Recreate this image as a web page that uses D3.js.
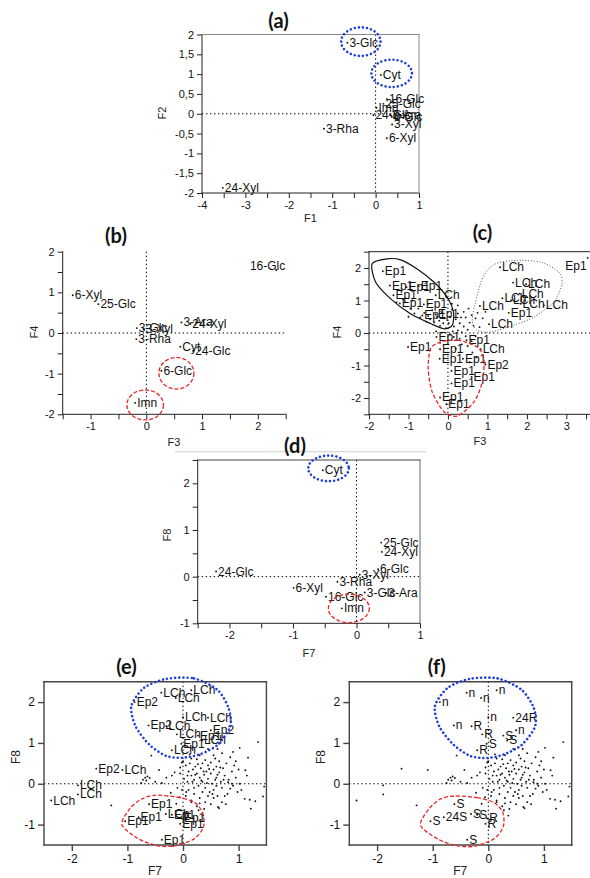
<!DOCTYPE html>
<html><head><meta charset="utf-8">
<script src="https://cdn.jsdelivr.net/npm/d3@7"></script>
<style>body{margin:0;background:#fff}</style>
</head><body><script>
// ---------- DATA ----------
// (a) variables on F1/F2
const varNames = ["3-Glc","Cyt","16-Glc","25-Glc","Imn","24-Glc","3-Ara","6-Glc","3-Xyl","3-Rha","6-Xyl","24-Xyl"];
const aF1 = [-0.65, 0.12, 0.26, 0.18, 0.02, -0.05, 0.33, 0.37, 0.38, -1.19, 0.26, -3.52];
const aF2 = [ 1.79, 0.98, 0.37, 0.25, 0.15, -0.03, -0.02, -0.08, -0.27, -0.38, -0.62, -1.87];
// (b) variables on F3/F4
const bF3 = [-0.17, 0.61, 2.33, -0.86, -0.2, 0.84, 0.63, 0.27, -0.05, -0.18, -1.32, 0.79];
const bF4 = [ 0.12, -0.34, 1.55, 0.71, -1.72, -0.44, 0.26, -0.93, 0.1, -0.15, 0.93, 0.22];
// (d) variables on F7/F8
const dF7 = [0.13, -0.53, -0.48, 0.39, -0.23, -2.21, 0.47, 0.34, 0.05, -0.3, -0.99, 0.4];
const dF8 = [-0.34, 2.28, -0.43, 0.73, -0.68, 0.11, -0.35, 0.16, 0.04, -0.11, -0.24, 0.53];
// (c) labelled observations on F3/F4
const cLab = ["Ep1","Ep1","Ep1","Ep1","Ep1","LCh","Ep1","Ep1","Ep1","Ep1","Ep1","Ep1","Ep1","Ep1","LCh","Ep1","Ep1","Ep2","Ep1","Ep1","Ep1","Ep1","Ep1","Ep1","LCh","LCh","LCh","LCh","LCh","LCh","LCh","Ep1","LCh","LCh","LCh"];
const cF3 = [-1.65,-1.47,-1.05,-0.74,-1.38,-0.31,-1.22,-0.61,-0.65,-0.31,-0.29,-1.01,-0.2,0.47,0.83,-0.21,0.38,0.95,0.09,0.6,0.09,-0.2,-0.04,3.54,1.32,1.65,1.98,1.38,1.82,1.84,2.43,1.54,0.81,1.04,1.6];
const cF4 = [1.9,1.46,1.41,1.44,1.16,1.16,0.91,0.88,0.54,0.57,-0.12,-0.43,-0.5,-0.22,-0.5,-0.79,-0.79,-0.97,-1.17,-1.35,-1.55,-1.98,-2.19,2.31,2.02,1.55,1.5,1.07,1.21,0.9,0.85,0.62,0.83,0.27,1.0];
// (c) unlabelled observations [F3, F4]
const cCloud = [[-1.15,1.05],[-1.3,0.95],[-0.95,0.75],[-0.85,0.6],[-0.75,0.75],[-0.6,0.62],[-0.5,0.52],[-0.45,0.42],[-0.4,0.7],[-0.35,0.33],[-0.28,0.5],[-0.22,0.38],[-0.2,0.22],[-0.15,0.62],[-0.12,0.3],[-0.08,0.45],[-0.05,0.15],[-0.55,0.35],[-0.7,0.48],[-1.0,0.5],[-0.9,1.0],[-0.5,0.9],
[0.02,0.3],[0.05,0.5],[0.1,0.72],[0.15,0.2],[0.2,0.42],[0.25,0.6],[0.25,0.08],[0.3,0.3],[0.35,0.02],[0.4,0.2],[0.45,0.48],[0.5,0.1],[0.55,0.32],[0.6,0.55],[0.65,0.22],[0.7,0.45],[0.75,0.62],[0.8,0.18],[0.45,-0.1],[0.3,-0.18],[0.15,-0.12],[0.05,-0.05],[0.6,-0.25],[0.7,-0.1],[0.5,-0.4],[0.35,-0.35],[0.2,-0.48],[0.62,-0.6],[0.72,-0.75],[0.55,-0.9],[0.25,0.85],[0.1,0.9],[0.88,0.45],[0.95,0.65],[0.4,0.65],[0.12,0.05],[-0.3,0.05],[-0.2,-0.3],[0.52,0.75],[0.33,0.48]];
// (e)/(f) labelled observations on F7/F8 (same scores, two labellings)
const efF7 = [-0.39,0.15,-0.87,-0.13,0.0,0.45,-0.62,-0.3,-0.11,0.27,0.5,0.34,-0.03,-0.2,-1.56,-1.09,-1.89,-1.89,-2.37,-0.61,-0.8,-1.04,-0.31,-0.2,-0.02,-0.05,-0.38];
const efF8 = [2.23,2.29,2.0,2.1,1.63,1.62,1.43,1.41,1.21,1.18,1.31,1.06,0.98,0.82,0.37,0.34,-0.04,-0.26,-0.41,-0.5,-0.82,-0.92,-0.74,-0.76,-0.85,-0.98,-1.37];
const labE = ["LCh","LCh","Ep2","LCh","LCh","LCh","Ep2","LCh","LCh","Ep1","Ep2","LCh","Ep1","LCh","Ep2","LCh","LCh","LCh","LCh","Ep1","Ep1","Ep1","LCh","Ep1","Ep1","Ep1","Ep1"];
const labF = ["n","n","n","n","n","24R","n","R","R","S","n","S","S","R","","","","","","S","24S","S","S","S","R","R","S"];
// (e)/(f) unlabelled observations [F7, F8]
const efCloud = [[1.35,1.02],[1.17,0.64],[1.02,0.88],[0.9,0.78],[1.12,0.33],[1.15,0.2],[1.11,-0.37],[1.2,-0.39],[1.3,-0.43],[1.46,-0.07],[1.44,-0.31],[1.22,-0.61],[1.02,0.0],[0.81,0.04],[0.88,0.0],[0.63,-0.57],[0.36,-0.78],[0.28,-0.65],[0.15,-0.41],[-0.06,-0.33],[-0.12,-0.49],[0.06,-0.2],
[-1.29,-0.53],[-0.57,0.69],[-0.43,0.34],[-0.72,0.1],[-0.68,0.15],[-0.64,0.18],[-0.6,0.14],[-0.66,0.08],[-0.75,0.02],[-0.5,0.05],[-0.38,0.02],[-0.3,0.15],[-0.2,0.2],[-0.15,0.28],[-0.05,0.25],[-0.1,-0.1],[-0.22,-0.22],[-0.02,0.52],[-0.02,-0.15],
[0.0,0.55],[0.05,0.45],[0.1,0.3],[0.12,0.5],[0.15,0.2],[0.18,0.35],[0.2,0.1],[0.22,0.42],[0.25,0.6],[0.25,0.25],[0.28,-0.05],[0.3,0.15],[0.32,0.38],[0.35,0.5],[0.35,0.05],[0.38,0.22],[0.4,0.58],[0.4,-0.1],[0.42,0.3],[0.45,0.45],[0.45,0.12],[0.48,-0.2],[0.5,0.52],[0.5,0.25],[0.52,0.0],[0.55,0.35],[0.55,-0.15],[0.58,0.62],[0.6,0.15],[0.6,0.42],[0.62,-0.3],[0.65,0.28],[0.65,0.55],[0.68,0.05],[0.7,0.75],[0.7,-0.1],[0.72,0.38],[0.75,0.2],[0.78,0.5],[0.8,-0.25],[0.82,0.1],[0.85,0.65],[0.88,0.3],[0.9,-0.05],[0.92,0.45],[0.95,0.15],[0.98,-0.2],[1.0,0.35],
[0.05,-0.3],[0.1,-0.15],[0.15,-0.45],[0.2,-0.25],[0.25,-0.55],[0.3,-0.35],[0.35,-0.2],[0.4,-0.45],[0.45,-0.3],[0.5,-0.5],[0.55,-0.35],[0.6,-0.05],[0.65,-0.6],[0.7,-0.45],[0.75,-0.3],[0.3,0.7],[0.15,0.62],[0.55,0.7],[0.45,0.85],[0.62,0.85],[0.2,-0.1],[0.08,0.05],[0.02,0.12],[-0.05,0.4],[0.38,-0.62],[0.12,0.72],
[0.33,0.08],[0.43,0.02],[0.58,0.1],[0.27,0.48],[0.47,0.36],[0.67,0.4],[0.37,0.3],[0.17,0.05],[0.53,-0.25],[0.73,0.1],[0.08,0.2],[0.22,0.22],[0.62,0.22],[0.85,-0.12],[0.95,0.55],[0.77,-0.5],[1.05,-0.15],[0.3,-0.48]];
// tick values
const tA_x=[-4,-3.5,-3,-2.5,-2,-1.5,-1,-0.5,0,0.5,1], tA_y=[-2,-1.5,-1,-0.5,0,0.5,1,1.5,2];
const tB_x=[-1.5,-1,-0.5,0,0.5,1,1.5,2,2.5], tB_y=[-2,-1.5,-1,-0.5,0,0.5,1,1.5,2];
const tC_x=[-2,-1.5,-1,-0.5,0,0.5,1,1.5,2,2.5,3,3.5], tC_y=[-2.5,-2,-1.5,-1,-0.5,0,0.5,1,1.5,2,2.5];
const tD_x=[-2.5,-2,-1.5,-1,-0.5,0,0.5,1], tD_y=[-1,-0.5,0,0.5,1,1.5,2,2.5];
const tE_x=[-2,-1,0,1], tE_y=[-1,0,1,2];

// ---------- DRAWING ----------
const FONT='"Liberation Sans", Arial, sans-serif';
const svg=d3.select("body").append("svg").attr("width",590).attr("height",878);
const BLUE="#1f3fd8", RED="#e8262a";

function intOnly(d){return Number.isInteger(d)? String(d):"";}
function comma(d){return String(d).replace(".",",");}

function panel(o){
  const x=d3.scaleLinear().domain(o.xdom).range([o.l,o.r]);
  const y=d3.scaleLinear().domain(o.ydom).range([o.b,o.t]);
  const g=svg.append("g");
  // reference lines
  g.append("line").attr("x1",x(0)).attr("x2",x(0)).attr("y1",o.t).attr("y2",o.b)
   .attr("stroke","#000").attr("stroke-width",1).attr("stroke-dasharray","1.4 2.6");
  g.append("line").attr("x1",o.l).attr("x2",o.r).attr("y1",y(0)).attr("y2",y(0))
   .attr("stroke","#000").attr("stroke-width",1).attr("stroke-dasharray","1.4 2.6");
  const xa=d3.axisBottom(x).tickValues(o.xt).tickSize(o.tick).tickSizeOuter(0).tickFormat(o.xf).tickPadding(3);
  const ya=d3.axisLeft(y).tickValues(o.yt).tickSize(o.tick).tickSizeOuter(0).tickFormat(o.yf).tickPadding(3);
  const gx=g.append("g").attr("transform",`translate(0,${o.b})`).call(xa);
  const gy=g.append("g").attr("transform",`translate(${o.l},0)`).call(ya);
  [gx,gy].forEach(a=>{a.select(".domain").remove();
    a.selectAll("line").attr("stroke",o.axc).attr("stroke-width",o.axw);
    a.selectAll("text").attr("font-size",o.fs).attr("font-family",FONT).attr("fill","#111");});
  const side={left:[o.l,o.t,o.l,o.b],bottom:[o.l,o.b,o.r,o.b],top:[o.l,o.t,o.r,o.t],right:[o.r,o.t,o.r,o.b]};
  Object.entries(o.frame).forEach(([k,c])=>{const s=side[k];
    g.append("line").attr("x1",s[0]).attr("y1",s[1]).attr("x2",s[2]).attr("y2",s[3])
     .attr("stroke",c).attr("stroke-width",o.axw).attr("stroke-linecap","square");});
  // titles
  g.append("text").attr("x",o.title[1]).attr("y",o.title[2]).attr("text-anchor","middle")
   .attr("font-family","Lato, 'Open Sans', sans-serif").attr("font-weight",700).attr("font-size",20).attr("fill","#111").text(o.title[0]);
  g.append("text").attr("x",o.xlab[1]).attr("y",o.xlab[2]).attr("text-anchor","middle")
   .attr("font-family",FONT).attr("font-size",o.lfs).attr("fill","#222").text(o.xlab[0]);
  g.append("text").attr("transform",`translate(${o.ylab[1]},${o.ylab[2]}) rotate(-90)`).attr("text-anchor","middle")
   .attr("dominant-baseline","middle").attr("font-family",FONT).attr("font-size",o.lfs).attr("fill","#222").text(o.ylab[0]);
  return {x,y,g};
}

function points(p,xs,ys,labs,ov){
  ov=ov||{};
  xs.forEach((v,i)=>{
    const cx=p.x(v), cy=p.y(ys[i]);
    p.g.append("circle").attr("cx",cx).attr("cy",cy).attr("r",0.95).attr("fill","#111");
    if(labs && labs[i]){
      const o=ov[i]||{};
      p.g.append("text").attr("x",cx+(o.dx!==undefined?o.dx:2)).attr("y",cy+(o.dy!==undefined?o.dy:4))
       .attr("text-anchor",o.anchor||"start").attr("font-family",FONT).attr("font-size",12).attr("fill","#111").text(labs[i]);
    }
  });
}
function ellipse(p,cx,cy,rx,ry,kind){
  const e=p.g.append("ellipse").attr("cx",p.x(cx)).attr("cy",p.y(cy)).attr("rx",rx).attr("ry",ry).attr("fill","none");
  style(e,kind);
}
function style(e,kind){
  if(kind==="blue") e.attr("stroke",BLUE).attr("stroke-width",2.6).attr("stroke-dasharray","0.01 4.1").attr("stroke-linecap","round");
  else if(kind==="red") e.attr("stroke",RED).attr("stroke-width",1.3).attr("stroke-dasharray","4 2");
  else if(kind==="black") e.attr("stroke","#111").attr("stroke-width",1.2);
  else if(kind==="gray") e.attr("stroke","#555").attr("stroke-width",1).attr("stroke-dasharray","1 1.8");
}
function shape(p,pts,kind){
  const line=d3.line().x(d=>p.x(d[0])).y(d=>p.y(d[1])).curve(d3.curveCardinalClosed.tension(0.2));
  style(p.g.append("path").attr("d",line(pts)).attr("fill","none"),kind);
}

// Panel (a)
const pA=panel({l:202,r:419,t:34.5,b:193,xdom:[-4,1],ydom:[-2,2],xt:tA_x,yt:tA_y,xf:intOnly,yf:comma,tick:5,fs:11,lfs:11,
  axc:"#222",axw:1,frame:{left:"#222",bottom:"#222",top:"#888",right:"#888"},
  title:["(a)",278.5,28],xlab:["F1",310.5,222],ylab:["F2",163,113]});
points(pA,aF1,aF2,varNames);
ellipse(pA,-0.34,1.82,19.7,14.3,"blue");
ellipse(pA,0.37,1.02,20.3,13.7,"blue");

// Panel (b)
const pB=panel({l:62.7,r:285.7,t:251.7,b:414.3,xdom:[-1.5,2.5],ydom:[-2,2],xt:tB_x,yt:tB_y,xf:intOnly,yf:intOnly,tick:5,fs:11,lfs:11,
  axc:"#222",axw:1,frame:{left:"#222",bottom:"#222"},
  title:["(b)",116,243],xlab:["F3",174,446],ylab:["F4",35,332]});
points(pB,bF3,bF4,varNames,{2:{anchor:"end",dx:9,dy:0}});
ellipse(pB,0.54,-0.99,17.5,15.8,"red");
ellipse(pB,-0.02,-1.77,18.3,15,"red");

// Panel (c)
const pC=panel({l:369,r:592,t:251.7,b:414.3,xdom:[-2,3.65],ydom:[-2.5,2.5],xt:tC_x,yt:tC_y,xf:intOnly,yf:intOnly,tick:5,fs:11,lfs:11,
  axc:"#222",axw:1,frame:{left:"#222",bottom:"#222",top:"#222"},
  title:["(c)",482.5,239.5],xlab:["F3",480,445],ylab:["F4",338,332]});
points(pC,cCloud.map(d=>d[0]),cCloud.map(d=>d[1]),null);
points(pC,cF3,cF4,cLab,{23:{anchor:"end",dx:-1,dy:12}});
shape(pC,[[-1.92,2.13],[-1.54,2.28],[-1.2,2.25],[-0.78,1.97],[-0.35,1.56],[-0.02,1.1],[0.14,0.64],[0.11,0.24],[-0.1,0.13],[-0.44,0.29],[-0.95,0.59],[-1.45,1.05],[-1.83,1.56]],"black");
shape(pC,[[0.66,0.75],[0.87,1.67],[1.16,2.1],[1.67,2.23],[2.35,2.18],[2.81,1.87],[2.89,1.51],[2.68,0.95],[2.18,0.49],[1.67,0.24],[1.08,0.03],[0.74,0.08],[0.62,0.34]],"gray");
shape(pC,[[-0.19,-0.28],[0.24,-0.22],[0.74,-0.43],[0.91,-0.79],[0.87,-1.5],[0.66,-2.12],[0.24,-2.55],[-0.1,-2.42],[-0.4,-1.81],[-0.5,-1.09],[-0.44,-0.48]],"red");

// Panel (d)
svg.append("line").attr("x1",175).attr("x2",426).attr("y1",451.7).attr("y2",451.7).attr("stroke","#d0d0d0").attr("stroke-width",1);
const pD=panel({l:197.7,r:420,t:460,b:623.3,xdom:[-2.5,1],ydom:[-1,2.5],xt:tD_x,yt:tD_y,xf:intOnly,yf:intOnly,tick:5,fs:11,lfs:11,
  axc:"#222",axw:1,frame:{left:"#222",bottom:"#222",top:"#444",right:"#666"},
  title:["(d)",295,453],xlab:["F7",309,657],ylab:["F8",168,535]});
points(pD,dF7,dF8,varNames);
ellipse(pD,-0.44,2.32,20.3,12.8,"blue");
ellipse(pD,-0.12,-0.68,20.5,14.2,"red");

// Panels (e) and (f)
function efPanel(l,title,tx,labs,blue,red){
  const p=panel({l:l,r:l+222.4,t:681.7,b:845,xdom:[-2.5,1.5],ydom:[-1.5,2.5],xt:tE_x,yt:tE_y,xf:d=>String(d),yf:d=>String(d),tick:6,fs:12,lfs:12,
    axc:"#444",axw:1.4,frame:{left:"#444",bottom:"#444",top:"#444",right:"#444"},
    title:[title,tx,674],xlab:["F7",l+111,875],ylab:["F8",l-27,757]});
  points(p,efCloud.map(d=>d[0]),efCloud.map(d=>d[1]),null);
  points(p,efF7,efF8,labs);
  shape(p,blue,"blue");
  shape(p,red,"red");
}
efPanel(44,"(e)",126.5,labE,
  [[-0.3,2.57],[0.2,2.58],[0.62,2.3],[0.82,1.85],[0.85,1.4],[0.62,0.95],[0.3,0.72],[0.0,0.64],[-0.3,0.68],[-0.6,0.95],[-0.85,1.4],[-0.93,1.9],[-0.7,2.35]],
  [[-0.5,-0.28],[-0.1,-0.33],[0.2,-0.45],[0.35,-0.7],[0.37,-1.05],[0.2,-1.35],[-0.15,-1.52],[-0.45,-1.52],[-0.8,-1.35],[-1.1,-1.0],[-0.95,-0.6],[-0.75,-0.38]]);
efPanel(349.3,"(f)",436.7,labF,
  [[-0.33,2.57],[0.17,2.58],[0.6,2.3],[0.82,1.85],[0.84,1.4],[0.6,0.95],[0.28,0.72],[-0.02,0.63],[-0.32,0.68],[-0.62,0.95],[-0.88,1.4],[-0.96,1.9],[-0.73,2.35]],
  [[-0.62,-0.3],[-0.2,-0.34],[0.1,-0.46],[0.26,-0.7],[0.27,-1.05],[0.1,-1.35],[-0.25,-1.53],[-0.55,-1.52],[-0.9,-1.36],[-1.22,-1.02],[-1.07,-0.62],[-0.87,-0.38]]);
</script></body></html>
